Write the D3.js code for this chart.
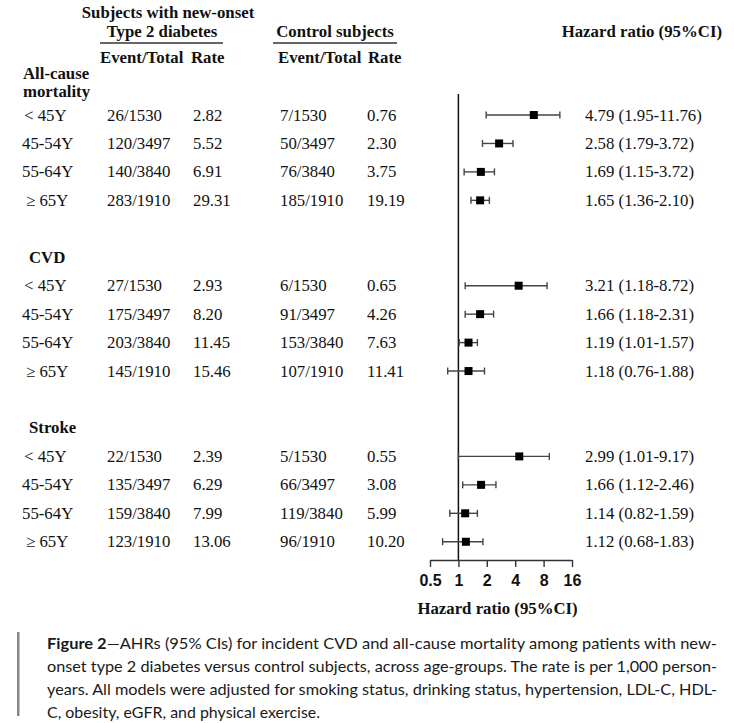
<!DOCTYPE html>
<html lang="en">
<head>
<meta charset="UTF-8">
<title>Forest plot</title>
<script src="https://d3js.org/d3.v7.min.js"></script>
<style>
    body { margin: 0; background: #fff; }
    .serif { font-family: "Liberation Serif", "Times New Roman", serif; font-size: 16.8px; fill: #111; }
    .bold { font-weight: bold; }
    .ci { stroke: #444; stroke-width: 1.4px; fill: none; }
    .axis text { font-family: "Liberation Sans", Arial, sans-serif; font-weight: bold; font-size: 16px; fill: #111; }
    .axis path, .axis line { stroke: #333; stroke-width: 1.4px; }
    .caption { font-family: Lato, "Noto Sans", sans-serif; font-size: 16px; fill: #1a1a1a; }
</style>
</head>
<body>
<script>

    // Table data
    var groups = ["All-cause mortality", "CVD", "Stroke"];
    var ageGroups = ["< 45Y", "45-54Y", "55-64Y", "\u2265 65Y"];
    var totals = [1530, 3497, 3840, 1910];

    var dmEvents = [26, 120, 140, 283, 27, 175, 203, 145, 22, 135, 159, 123];
    var dmRates = [2.82, 5.52, 6.91, 29.31, 2.93, 8.20, 11.45, 15.46, 2.39, 6.29, 7.99, 13.06];
    var ctrlEvents = [7, 50, 76, 185, 6, 91, 153, 107, 5, 66, 119, 96];
    var ctrlRates = [0.76, 2.30, 3.75, 19.19, 0.65, 4.26, 7.63, 11.41, 0.55, 3.08, 5.99, 10.20];

    // printed hazard ratios
    var hrText = ["4.79", "2.58", "1.69", "1.65", "3.21", "1.66", "1.19", "1.18", "2.99", "1.66", "1.14", "1.12"];
    var ciLowText = ["1.95", "1.79", "1.15", "1.36", "1.18", "1.18", "1.01", "0.76", "1.01", "1.12", "0.82", "0.68"];
    var ciHighText = ["11.76", "3.72", "3.72", "2.10", "8.72", "2.31", "1.57", "1.88", "9.17", "2.46", "1.59", "1.83"];

    // plotted markers
    var hrPlot = [6.3, 2.7, 1.73, 1.70, 4.35, 1.70, 1.28, 1.28, 4.42, 1.74, 1.18, 1.20];
    var ciLowPlot = [1.97, 1.80, 1.15, 1.36, 1.18, 1.18, 1.02, 0.77, 1.00, 1.11, 0.81, 0.68];
    var ciHighPlot = [11.9, 3.79, 2.41, 2.13, 8.7, 2.36, 1.59, 1.89, 9.2, 2.5, 1.59, 1.82];

    var axisTicks = [0.5, 1, 2, 4, 8, 16];

    var captionLines = [
        "\u2014AHRs (95% CIs) for incident CVD and all-cause mortality among patients with new-",
        "onset type 2 diabetes versus control subjects, across age-groups. The rate is per 1,000 person-",
        "years. All models were adjusted for smoking status, drinking status, hypertension, LDL-C, HDL-",
        "C, obesity, eGFR, and physical exercise."
    ];

    var width = 734, height = 723;

    var svg = d3.select("body")
        .append("svg")
        .attr("width", width)
        .attr("height", height);

    // rows: 6 slots per group (header + 4 ages + blank), first data row at index 0
    var y = d3.scaleLinear().domain([0, 1]).range([115, 143.45]);
    var x = d3.scaleLog().base(2).domain([0.5, 16]).range([430, 572]);

    function rowIndex(i) { return Math.floor(i / 4) * 6 + (i % 4); }

    var rows = dmEvents.map(function(d, i) {
        return {
            idx: rowIndex(i),
            age: ageGroups[i % 4],
            dm: d + "/" + totals[i % 4],
            dmRate: dmRates[i].toFixed(2),
            ctrl: ctrlEvents[i] + "/" + totals[i % 4],
            ctrlRate: ctrlRates[i].toFixed(2),
            label: hrText[i] + " (" + ciLowText[i] + "-" + ciHighText[i] + ")",
            hr: hrPlot[i], lo: ciLowPlot[i], hi: ciHighPlot[i]
        };
    });

    // Headers
    var head = svg.append("g").attr("class", "serif bold");
    head.append("text").attr("x", 168).attr("y", 18).attr("text-anchor", "middle").text("Subjects with new-onset");
    head.append("text").attr("x", 162).attr("y", 37).attr("text-anchor", "middle").text("Type 2 diabetes");
    head.append("text").attr("x", 335).attr("y", 37).attr("text-anchor", "middle").text("Control subjects");
    head.append("text").attr("x", 100).attr("y", 63).text("Event/Total");
    head.append("text").attr("x", 191).attr("y", 63).text("Rate");
    head.append("text").attr("x", 278).attr("y", 63).text("Event/Total");
    head.append("text").attr("x", 368).attr("y", 63).text("Rate");
    head.append("text").attr("x", 722).attr("y", 37).attr("text-anchor", "end").text("Hazard ratio (95%CI)");

    svg.append("line").attr("x1", 100).attr("x2", 223).attr("y1", 43).attr("y2", 43)
        .attr("stroke", "#333").attr("stroke-width", 1.3);
    svg.append("line").attr("x1", 273).attr("x2", 397).attr("y1", 43).attr("y2", 43)
        .attr("stroke", "#333").attr("stroke-width", 1.3);

    // Group titles
    var gt = svg.append("g").attr("class", "serif bold");
    gt.append("text").attr("x", 23).attr("y", 79).text("All-cause");
    gt.append("text").attr("x", 23).attr("y", 97).text("mortality");
    groups.slice(1).forEach(function(g, k) {
        gt.append("text").attr("x", 29).attr("y", y((k + 1) * 6 - 1) + 5.5).text(g);
    });

    // Table rows
    var row = svg.append("g").attr("class", "serif")
        .selectAll("g").data(rows).enter().append("g")
        .attr("transform", function(d) { return "translate(0," + (y(d.idx) + 5.5) + ")"; });

    row.append("text").attr("x", function(d) { return d.age.charAt(0) === "\u2265" ? 26 : (d.age.charAt(0) === "<" ? 24 : 22); })
        .text(function(d) { return d.age; });
    row.append("text").attr("x", 107).text(function(d) { return d.dm; });
    row.append("text").attr("x", 193).text(function(d) { return d.dmRate; });
    row.append("text").attr("x", 280).text(function(d) { return d.ctrl; });
    row.append("text").attr("x", 367).text(function(d) { return d.ctrlRate; });
    row.append("text").attr("x", 585).text(function(d) { return d.label; });

    // Reference line at HR = 1
    svg.append("line")
        .attr("x1", x(1)).attr("x2", x(1))
        .attr("y1", 94).attr("y2", 560)
        .attr("stroke", "#111").attr("stroke-width", 1.5);

    // CI whiskers and squares
    var ci = svg.append("g").selectAll("g").data(rows).enter().append("g")
        .attr("transform", function(d) { return "translate(0," + y(d.idx) + ")"; });

    ci.append("line").attr("class", "ci")
        .attr("x1", function(d) { return x(d.lo); })
        .attr("x2", function(d) { return x(d.hi); });
    ci.append("line").attr("class", "ci")
        .attr("x1", function(d) { return x(d.lo); }).attr("x2", function(d) { return x(d.lo); })
        .attr("y1", -3.5).attr("y2", 3.5);
    ci.append("line").attr("class", "ci")
        .attr("x1", function(d) { return x(d.hi); }).attr("x2", function(d) { return x(d.hi); })
        .attr("y1", -3.5).attr("y2", 3.5);
    ci.append("rect")
        .attr("x", function(d) { return x(d.hr) - 4; })
        .attr("y", -4).attr("width", 8).attr("height", 8)
        .attr("fill", "#000");

    // X axis
    var xAxis = d3.axisBottom(x)
        .tickValues(axisTicks)
        .tickFormat(function(d) { return String(d); })
        .tickSize(7)
        .tickSizeOuter(0)
        .tickPadding(8);

    svg.append("g")
        .attr("class", "axis")
        .attr("transform", "translate(0,560)")
        .call(xAxis);

    svg.append("text").attr("class", "serif bold")
        .attr("x", x(2.6)).attr("y", 614)
        .attr("text-anchor", "middle")
        .text("Hazard ratio (95%CI)");

    // Caption
    svg.append("rect").attr("x", 17).attr("y", 632).attr("width", 2.5).attr("height", 84).attr("fill", "#888");

    var cap = svg.append("g").attr("class", "caption");
    captionLines.forEach(function(line, i) {
        var t = cap.append("text").attr("x", 47).attr("y", 649 + i * 23);
        if (i === 0) t.append("tspan").attr("font-weight", "bold").text("Figure 2");
        t.append("tspan").text(line);
        t.attr("textLength", i < 3 ? 670 : 273).attr("lengthAdjust", "spacingAndGlyphs");
    });

</script>
</body>
</html>
